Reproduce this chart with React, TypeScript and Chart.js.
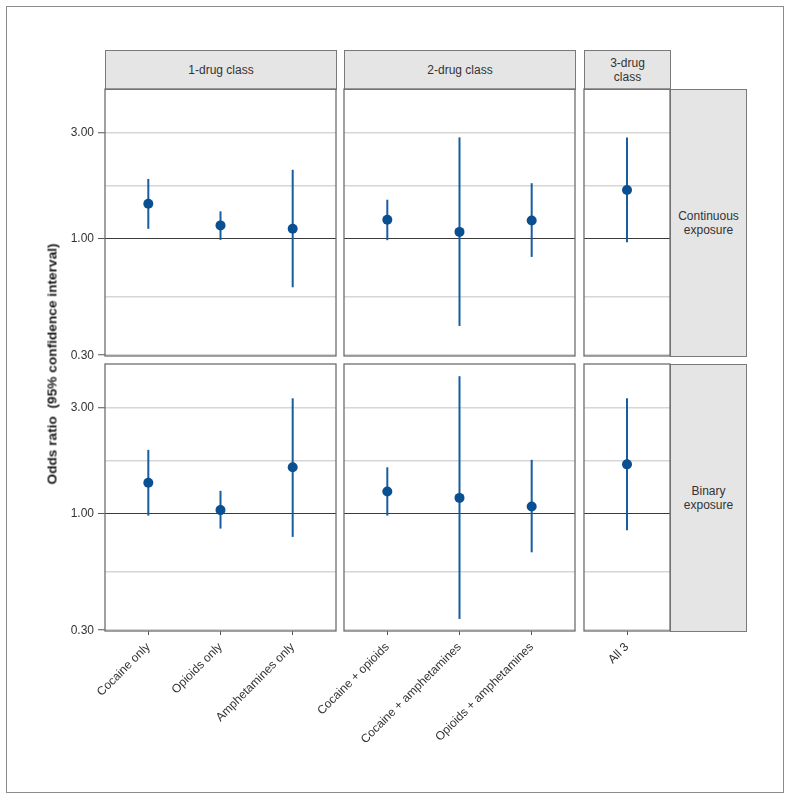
import React, { useEffect, useRef } from "react";
import { Chart, registerables } from "chart.js";

Chart.register(...registerables);

// ---------- data ----------
const categories = [
  "Cocaine only",
  "Opioids only",
  "Amphetamines only",
  "Cocaine + opioids",
  "Cocaine + amphetamines",
  "Opioids + amphetamines",
  "All 3",
];
const categoryClass = [0, 0, 0, 1, 1, 1, 2];
const classLabels = ["1-drug class", "2-drug class", "3-drug\nclass"];
const exposureLabels = ["Continuous\nexposure", "Binary\nexposure"];

const continuousOR = [1.44, 1.15, 1.11, 1.22, 1.075, 1.21, 1.66];
const continuousLow = [1.11, 0.99, 0.606, 0.987, 0.406, 0.83, 0.966];
const continuousHigh = [1.86, 1.33, 2.045, 1.5, 2.86, 1.78, 2.86];

const binaryOR = [1.38, 1.04, 1.62, 1.26, 1.18, 1.08, 1.67];
const binaryLow = [0.982, 0.859, 0.788, 0.982, 0.337, 0.672, 0.844];
const binaryHigh = [1.94, 1.27, 3.31, 1.62, 4.16, 1.75, 3.31];

const yTickValues = [0.3, 1, 3];
const yMinorGridValues = [0.5477, 1.732];
const yTitle = "Odds ratio  (95% confidence interval)";

// ---------- layout / style ----------
const Y_MIN = 0.2975;
const Y_MAX = 4.72;
const COL_LEFT = [105, 344, 584];
const COL_W = [231, 231, 86];
const ROW_TOP = [89, 364];
const ROW_H = 267;
const Y_AXIS_W = 48;
const X_AXIS_H = 150;
const POINT_COLOR = "#0a4f92";
const LINE_COLOR = "#175da0";
const FONT = '"Liberation Sans", Arial, Helvetica, sans-serif';

Chart.defaults.font.family = FONT;
Chart.defaults.font.size = 12;
Chart.defaults.color = "#333";

const framePlugin = {
  id: "panelFrame",
  afterDraw(chart: any) {
    const { ctx, chartArea: a } = chart;
    ctx.save();
    ctx.strokeStyle = "#6f6f6f";
    ctx.lineWidth = 1.3;
    ctx.strokeRect(a.left, a.top, a.right - a.left, a.bottom - a.top);
    ctx.restore();
  },
};

function Panel({ r, c }: { r: number; c: number }) {
  const ref = useRef<HTMLCanvasElement | null>(null);
  const idx = categories.map((_, i) => i).filter((i) => categoryClass[i] === c);
  const yW = c === 0 ? Y_AXIS_W : 0;
  const padL = r === 1 && c === 1 ? 40 : 2;
  const padR = 3;
  const padT = 4;
  const padB = r === 0 ? 8 : 0;
  const xH = r === 1 ? X_AXIS_H : 0;
  const width = padL + yW + COL_W[c] + padR;
  const height = padT + ROW_H + xH + padB;
  const left = COL_LEFT[c] - yW - padL;
  const top = ROW_TOP[r] - padT;

  useEffect(() => {
    const est = r === 0 ? continuousOR : binaryOR;
    const lo = r === 0 ? continuousLow : binaryLow;
    const hi = r === 0 ? continuousHigh : binaryHigh;
    const allY = [...yTickValues, ...yMinorGridValues].sort((a, b) => a - b);
    const chart = new Chart(ref.current as HTMLCanvasElement, {
      type: "scatter",
      data: {
        datasets: [
          {
            label: "OR",
            data: idx.map((i, k) => ({ x: k, y: est[i] })),
            pointRadius: 5,
            pointHoverRadius: 5,
            backgroundColor: POINT_COLOR,
            borderWidth: 0,
            showLine: false,
          } as any,
          ...idx.map((i, k) => ({
            label: "CI " + categories[i],
            data: [
              { x: k, y: lo[i] },
              { x: k, y: hi[i] },
            ],
            showLine: true,
            borderColor: LINE_COLOR,
            borderWidth: 2,
            borderCapStyle: "butt",
            pointRadius: 0,
            pointHoverRadius: 0,
          })),
        ],
      },
      options: {
        responsive: false,
        animation: false,
        events: [],
        layout: {
          autoPadding: false,
          padding: { left: padL, right: padR, top: padT, bottom: padB },
        },
        plugins: { legend: { display: false }, tooltip: { enabled: false } },
        scales: {
          x: {
            type: "linear",
            bounds: "data",
            min: -0.6,
            max: idx.length - 0.4,
            display: r === 1,
            afterBuildTicks: (s: any) => {
              s.ticks = idx.map((_, k) => ({ value: k }));
            },
            afterFit: (s: any) => {
              s.height = xH;
              s.paddingLeft = 0;
              s.paddingRight = 0;
            },
            ticks: {
              autoSkip: false,
              minRotation: 45,
              maxRotation: 45,
              padding: 5,
              color: "#333",
              font: { size: 12 },
              callback: (v: any) => categories[idx[v]],
            },
            grid: {
              drawOnChartArea: false,
              drawTicks: true,
              tickLength: 4,
              tickColor: "#555",
              tickWidth: 1,
            },
            border: { display: false },
          },
          y: {
            type: "logarithmic",
            bounds: "data",
            min: Y_MIN,
            max: Y_MAX,
            afterBuildTicks: (s: any) => {
              s.ticks = allY.map((v) => ({ value: v }));
            },
            afterFit: (s: any) => {
              s.width = yW;
              s.paddingTop = 0;
              s.paddingBottom = 0;
            },
            ticks: {
              display: c === 0,
              padding: 4,
              color: "#333",
              font: { size: 12 },
              callback: (v: any) => (yTickValues.includes(v) ? Number(v).toFixed(2) : ""),
            },
            grid: {
              drawTicks: c === 0,
              tickLength: 7,
              color: (ctx: any) => (ctx.tick && ctx.tick.value === 1 ? "#3a3a3a" : "#d6d6d6"),
              lineWidth: (ctx: any) => (ctx.tick && ctx.tick.value === 1 ? 1 : 1.5),
              tickColor: (ctx: any) =>
                ctx.tick && yTickValues.includes(ctx.tick.value) ? "#555" : "rgba(0,0,0,0)",
              tickWidth: 1,
            },
            border: { display: false },
          },
        },
      } as any,
      plugins: [framePlugin],
    } as any);
    return () => chart.destroy();
  }, []);

  return (
    <canvas
      ref={ref}
      width={width}
      height={height}
      style={{ position: "absolute", left, top, width, height }}
    />
  );
}

const stripStyle: React.CSSProperties = {
  position: "absolute",
  boxSizing: "border-box",
  background: "#e5e5e5",
  border: "1px solid #7a7a7a",
  display: "flex",
  alignItems: "center",
  justifyContent: "center",
  textAlign: "center",
  whiteSpace: "pre-line",
  fontFamily: FONT,
  fontSize: 12,
  lineHeight: "14.5px",
  color: "#333",
};

export default function App() {
  return (
    <div
      style={{
        position: "absolute",
        left: 0,
        top: 0,
        width: 791,
        height: 800,
        background: "#fff",
        fontFamily: FONT,
      }}
    >
      <div
        style={{
          position: "absolute",
          left: 6,
          top: 6,
          width: 778,
          height: 787,
          boxSizing: "border-box",
          border: "1.5px solid #8c8c8c",
        }}
      />
      {classLabels.map((lab, c) => (
        <div
          key={"cs" + c}
          style={{ ...stripStyle, left: COL_LEFT[c], top: 50, width: COL_W[c] + 1, height: 40 }}
        >
          {lab}
        </div>
      ))}
      {exposureLabels.map((lab, r) => (
        <div
          key={"rs" + r}
          style={{ ...stripStyle, left: 670, top: ROW_TOP[r], width: 77, height: ROW_H + 1 }}
        >
          {lab}
        </div>
      ))}
      {[0, 1].map((r) => [0, 1, 2].map((c) => <Panel key={r + "-" + c} r={r} c={c} />))}
      <div
        style={{
          position: "absolute",
          left: 52,
          top: 364,
          transform: "translate(-50%, -50%) rotate(-90deg)",
          whiteSpace: "pre",
          fontFamily: FONT,
          fontWeight: "bold",
          fontSize: 13.7,
          color: "#1a1a1a",
        }}
      >
        {yTitle}
      </div>
    </div>
  );
}
